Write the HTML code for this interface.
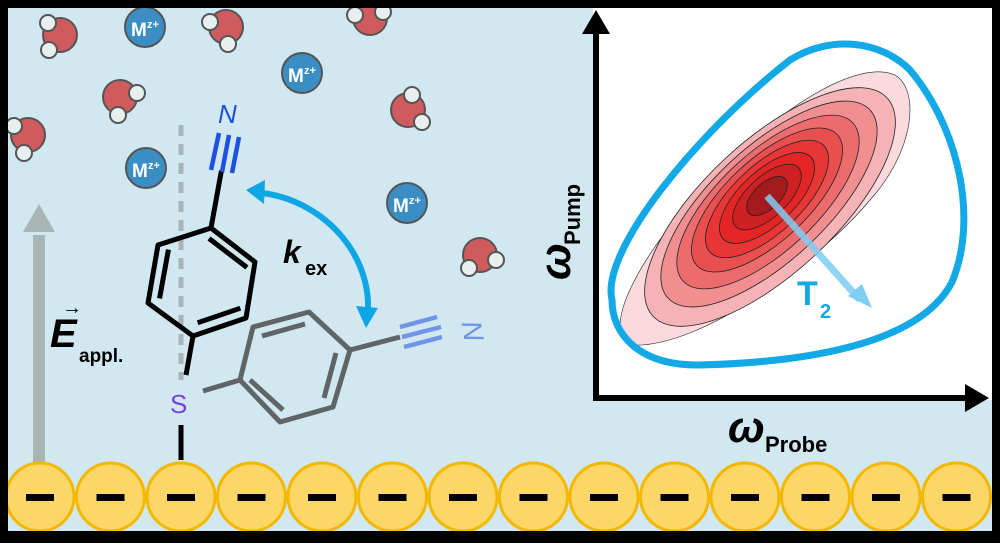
<!DOCTYPE html>
<html><head><meta charset="utf-8"><style>
html,body{margin:0;padding:0;background:#000;}
svg{display:block;}
text{font-family:"Liberation Sans",Arial,sans-serif;}
</style></head><body>
<svg width="1000" height="543" viewBox="0 0 1000 543" xmlns="http://www.w3.org/2000/svg">
<rect x="0" y="0" width="1000" height="543" fill="#000"/>
<rect x="8" y="8" width="984" height="527" fill="#d2e8f0"/>
<rect x="593" y="8" width="399" height="392" fill="#fff"/>
<g stroke="#222" stroke-width="0.8">
<path d="M 630,345 C 600,330 640,250 720,170 C 790,100 860,60 895,75 C 920,90 915,150 870,200 C 820,260 700,350 630,345 Z" fill="#fadadc" stroke-width="0.6"/>
<ellipse cx="770" cy="207" rx="160" ry="66" transform="rotate(-43 770 207)" fill="#f5b3b5"/>
<ellipse cx="769" cy="204" rx="138" ry="57" transform="rotate(-43 769 204)" fill="#f08e90"/>
<ellipse cx="768" cy="202" rx="116" ry="49" transform="rotate(-43 768 202)" fill="#ec6c6e"/>
<ellipse cx="767" cy="200" rx="96" ry="41" transform="rotate(-43 767 200)" fill="#ea4f50"/>
<ellipse cx="767" cy="199" rx="78" ry="34" transform="rotate(-43 767 199)" fill="#e83536"/>
<ellipse cx="767" cy="198" rx="60" ry="27" transform="rotate(-43 767 198)" fill="#e52425"/>
<ellipse cx="767" cy="197" rx="43" ry="20" transform="rotate(-43 767 197)" fill="#cf2023"/>
<ellipse cx="767" cy="196" rx="25" ry="13" transform="rotate(-43 767 196)" fill="#a31b1f"/>
</g>
<path d="M 612,300 C 600,250 700,130 790,60 C 830,35 880,40 910,70 C 960,130 978,220 952,282 C 922,340 820,362 700,365 C 640,366 612,335 612,300 Z" fill="none" stroke="#12a9e6" stroke-width="7"/>
<line x1="767" y1="196" x2="860" y2="300" stroke="#7fcdf2" stroke-width="7" opacity="0.85"/>
<polygon points="872,308 848,296 862,284" fill="#7fcdf2"/>
<text x="797" y="305" font-size="34" font-weight="bold" fill="#12a9e6">T</text>
<text x="820" y="318" font-size="20" font-weight="bold" fill="#12a9e6">2</text>
<line x1="596" y1="28" x2="596" y2="400" stroke="#000" stroke-width="6"/>
<polygon points="596,10 582,34 610,34" fill="#000"/>
<line x1="593" y1="398" x2="972" y2="398" stroke="#000" stroke-width="6"/>
<polygon points="989,398 965,384 965,412" fill="#000"/>
<text x="728" y="442" font-size="44" font-weight="bold" font-style="italic" fill="#000">ω</text>
<text x="765" y="452" font-size="22" font-weight="bold" fill="#000">Probe</text>
<g transform="translate(570,250) rotate(-90)">
<text x="-30" y="0" font-size="44" font-weight="bold" font-style="italic" fill="#000">ω</text>
<text x="5" y="10" font-size="22" font-weight="bold" fill="#000">Pump</text>
</g>
<rect x="33" y="235" width="12" height="230" fill="#a8b5b5"/>
<polygon points="39,204 23,232 55,232" fill="#a8b5b5"/>
<text x="50" y="347" font-size="40" font-weight="bold" font-style="italic" fill="#000">E</text>
<text x="62" y="314" font-size="20" fill="#000">→</text>
<text x="79" y="362" font-size="19" font-weight="bold" fill="#000">appl.</text>
<line x1="181" y1="125" x2="181" y2="380" stroke="#a9b4b6" stroke-width="5" stroke-dasharray="11,8"/>
<g stroke="#555" stroke-width="2">
<g><circle cx="60" cy="35" r="17" fill="#cf5b5e"/><circle cx="48" cy="23" r="8" fill="#e8f0ef"/><circle cx="49" cy="50" r="8" fill="#e8f0ef"/></g>
<g><circle cx="226" cy="27" r="17" fill="#cf5b5e"/><circle cx="210" cy="22" r="8" fill="#e8f0ef"/><circle cx="228" cy="44" r="8" fill="#e8f0ef"/></g>
<g><circle cx="370" cy="18" r="17" fill="#cf5b5e"/><circle cx="355" cy="15" r="8" fill="#e8f0ef"/><circle cx="383" cy="12" r="8" fill="#e8f0ef"/></g>
<g><circle cx="120" cy="97" r="17" fill="#cf5b5e"/><circle cx="137" cy="93" r="8" fill="#e8f0ef"/><circle cx="118" cy="115" r="8" fill="#e8f0ef"/></g>
<g><circle cx="28" cy="135" r="17" fill="#cf5b5e"/><circle cx="14" cy="126" r="8" fill="#e8f0ef"/><circle cx="24" cy="153" r="8" fill="#e8f0ef"/></g>
<g><circle cx="408" cy="110" r="17" fill="#cf5b5e"/><circle cx="412" cy="95" r="8" fill="#e8f0ef"/><circle cx="422" cy="122" r="8" fill="#e8f0ef"/></g>
<g><circle cx="480" cy="255" r="17" fill="#cf5b5e"/><circle cx="469" cy="268" r="8" fill="#e8f0ef"/><circle cx="496" cy="260" r="8" fill="#e8f0ef"/></g>
</g>
<g font-weight="bold" fill="#fff">
<circle cx="145" cy="27" r="20" fill="#3b8ec4" stroke="#555" stroke-width="2"/><text x="131" y="36" font-size="19">M</text><text x="147" y="28" font-size="11">z+</text>
<circle cx="302" cy="73" r="20" fill="#3b8ec4" stroke="#555" stroke-width="2"/><text x="288" y="82" font-size="19">M</text><text x="304" y="74" font-size="11">z+</text>
<circle cx="146" cy="168" r="20" fill="#3b8ec4" stroke="#555" stroke-width="2"/><text x="132" y="177" font-size="19">M</text><text x="148" y="169" font-size="11">z+</text>
<circle cx="407" cy="203" r="20" fill="#3b8ec4" stroke="#555" stroke-width="2"/><text x="393" y="212" font-size="19">M</text><text x="409" y="204" font-size="11">z+</text>
</g>
<g stroke="#000" stroke-width="5" fill="none" stroke-linejoin="round" stroke-linecap="square">
<polyline points="211,228 255,262 246,318 193,336 148,303 158,245 211,228"/>
<line x1="211" y1="240" x2="245" y2="266"/>
<line x1="168" y1="252" x2="160" y2="296"/>
<line x1="200" y1="322" x2="238" y2="309"/>
<line x1="211" y1="228" x2="221" y2="173"/>
<line x1="186" y1="375" x2="193" y2="336" stroke-linecap="butt"/>
<line x1="181" y1="425" x2="181" y2="460" stroke-linecap="butt"/>
</g>
<g stroke="#1f4fe0" stroke-width="4.5">
<line x1="211" y1="170" x2="219" y2="133"/><line x1="222" y1="172" x2="229" y2="135"/><line x1="232" y1="173" x2="239" y2="137"/>
</g>
<text x="218" y="123" font-size="26" font-style="italic" fill="#1f4fe0">N</text>
<text x="170" y="413" font-size="26" fill="#7b3fe0">S</text>
<g stroke="#5f6566" stroke-width="5" fill="none" stroke-linejoin="round">
<line x1="203" y1="391" x2="240" y2="380"/>
<polyline points="240,380 253,327 309,312 350,350 333,407 280,422 240,380"/>
<line x1="262" y1="336" x2="305" y2="324"/>
<line x1="336" y1="353" x2="324" y2="398"/>
<line x1="250" y1="380" x2="283" y2="410"/>
<line x1="350" y1="350" x2="400" y2="337"/>
</g>
<g stroke="#6f94e8" stroke-width="4.5">
<line x1="400" y1="327" x2="437" y2="317"/><line x1="402" y1="337" x2="441" y2="327"/><line x1="404" y1="347" x2="442" y2="337"/>
</g>
<text transform="translate(484,340) rotate(-100)" x="0" y="0" font-size="28" font-style="italic" fill="#6f94e8">N</text>
<path d="M 262,193 C 320,200 370,250 368,310" fill="none" stroke="#0fa6e6" stroke-width="6"/>
<polygon points="246,190 265,180 264,204" fill="#0fa6e6"/>
<polygon points="366,328 356,306 378,308" fill="#0fa6e6"/>
<text x="283" y="263" font-size="32" font-weight="bold" font-style="italic" fill="#000">k</text>
<text x="305" y="275" font-size="20" font-weight="bold" fill="#000">ex</text>
<g fill="#fcd667" stroke="#f5b800" stroke-width="3">
<circle cx="40" cy="497" r="34"/><circle cx="110.5" cy="497" r="34"/><circle cx="181" cy="497" r="34"/><circle cx="251.5" cy="497" r="34"/><circle cx="322" cy="497" r="34"/><circle cx="392.5" cy="497" r="34"/><circle cx="463" cy="497" r="34"/><circle cx="533.5" cy="497" r="34"/><circle cx="604" cy="497" r="34"/><circle cx="674.5" cy="497" r="34"/><circle cx="745" cy="497" r="34"/><circle cx="815.5" cy="497" r="34"/><circle cx="886" cy="497" r="34"/><circle cx="956.5" cy="497" r="34"/>
</g>
<g fill="#000">
<rect x="26" y="494" width="28" height="7"/><rect x="96.5" y="494" width="28" height="7"/><rect x="167" y="494" width="28" height="7"/><rect x="237.5" y="494" width="28" height="7"/><rect x="308" y="494" width="28" height="7"/><rect x="378.5" y="494" width="28" height="7"/><rect x="449" y="494" width="28" height="7"/><rect x="519.5" y="494" width="28" height="7"/><rect x="590" y="494" width="28" height="7"/><rect x="660.5" y="494" width="28" height="7"/><rect x="731" y="494" width="28" height="7"/><rect x="801.5" y="494" width="28" height="7"/><rect x="872" y="494" width="28" height="7"/><rect x="942.5" y="494" width="28" height="7"/>
</g>
<rect x="4" y="4" width="992" height="531" fill="none" stroke="#000" stroke-width="8"/>
<rect x="0" y="535" width="1000" height="8" fill="#000"/>
</svg>
</body></html>
